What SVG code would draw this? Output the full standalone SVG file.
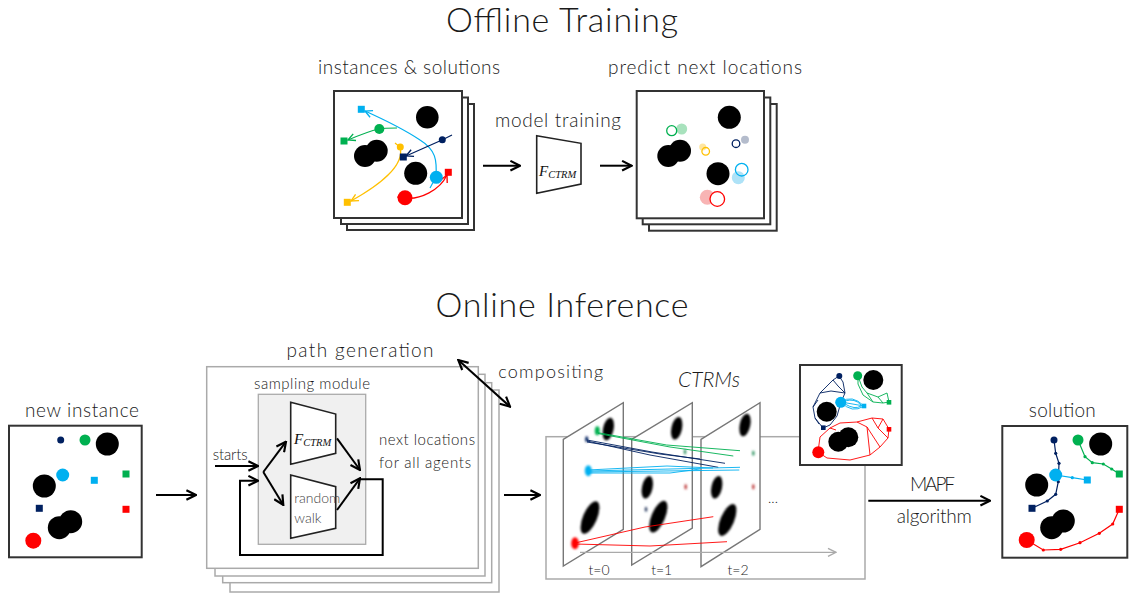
<svg xmlns="http://www.w3.org/2000/svg" width="1130" height="593" viewBox="0 0 1130 593">
<style>
text{font-family:Lato,"Liberation Sans",sans-serif;font-weight:300;fill:#1a1a1a}
.title{font-size:34px}
.lbl{font-size:19px}
.sm{font-size:15px}
.tiny{font-size:14px}
.math{font-family:"Liberation Serif","DejaVu Serif",serif;font-style:italic;font-weight:400;fill:#111}
.map{fill:#fff;stroke:#333;stroke-width:2}
.stack{fill:#fff;stroke:#aaa;stroke-width:1.5}
.plane{fill:#fff;stroke:#777;stroke-width:1.4}
.obs{fill:#000}
.arr{fill:none;stroke:#000;stroke-width:2}
.trap{fill:#fff;stroke:#222;stroke-width:1.6}
.nv{fill:#002060}.cy{fill:#00b0f0}.gn{fill:#00b050}.rd{fill:#ff0000}.yl{fill:#ffc000}
.snv{fill:none;stroke:#002060;stroke-width:1.2}
.scy{fill:none;stroke:#00b0f0;stroke-width:1.2}
.sgn{fill:none;stroke:#00b050;stroke-width:1.2}
.srd{fill:none;stroke:#ff0000;stroke-width:1.2}
.syl{fill:none;stroke:#ffc000;stroke-width:1.2}
.thin{stroke-width:0.9}
</style>
<defs>
<marker id="ah" viewBox="0 0 10 10" refX="9" refY="5" markerWidth="12" markerHeight="12" markerUnits="userSpaceOnUse" orient="auto-start-reverse">
<path d="M1,1 L9,5 L1,9" fill="none" stroke="#000" stroke-width="1.8"/>
</marker>
<marker id="ahg" viewBox="0 0 10 10" refX="9" refY="5" markerWidth="10" markerHeight="10" markerUnits="userSpaceOnUse" orient="auto">
<path d="M1,1 L9,5 L1,9" fill="none" stroke="#aaa" stroke-width="1.4"/>
</marker>
<marker id="ahcy" viewBox="0 0 10 10" refX="9" refY="5" markerWidth="9" markerHeight="9" markerUnits="userSpaceOnUse" orient="auto"><path d="M1,1 L9,5 L1,9" fill="none" stroke="#00b0f0" stroke-width="1.5"/></marker>
<marker id="ahgn" viewBox="0 0 10 10" refX="9" refY="5" markerWidth="9" markerHeight="9" markerUnits="userSpaceOnUse" orient="auto"><path d="M1,1 L9,5 L1,9" fill="none" stroke="#00b050" stroke-width="1.5"/></marker>
<marker id="ahnv" viewBox="0 0 10 10" refX="9" refY="5" markerWidth="9" markerHeight="9" markerUnits="userSpaceOnUse" orient="auto"><path d="M1,1 L9,5 L1,9" fill="none" stroke="#002060" stroke-width="1.5"/></marker>
<marker id="ahyl" viewBox="0 0 10 10" refX="9" refY="5" markerWidth="9" markerHeight="9" markerUnits="userSpaceOnUse" orient="auto"><path d="M1,1 L9,5 L1,9" fill="none" stroke="#ffc000" stroke-width="1.5"/></marker>
<marker id="ahrd" viewBox="0 0 10 10" refX="9" refY="5" markerWidth="9" markerHeight="9" markerUnits="userSpaceOnUse" orient="auto"><path d="M1,1 L9,5 L1,9" fill="none" stroke="#ff0000" stroke-width="1.5"/></marker>
<filter id="soft" x="-50%" y="-50%" width="200%" height="200%"><feGaussianBlur stdDeviation="0.8"/></filter>
</defs>

<!-- section titles -->
<text class="title" x="562" y="32" text-anchor="middle" textLength="232">Offline Training</text>
<text class="title" x="562" y="317" text-anchor="middle" textLength="253">Online Inference</text>

<!-- training data: instances with solved paths -->
<g id="training-instances">
<text class="lbl" x="409" y="74" text-anchor="middle" textLength="182">instances &amp; solutions</text>
<rect class="map" x="347" y="104" width="127" height="126"/>
<rect class="map" x="341" y="97.5" width="127" height="126.5"/>
<rect class="map" x="334" y="91" width="128" height="127"/>
<circle class="obs" cx="427.3" cy="117.3" r="11.3"/>
<circle class="obs" cx="365" cy="156" r="11"/>
<circle class="obs" cx="376.7" cy="150.7" r="11"/>
<circle class="obs" cx="415.7" cy="173.3" r="11.5"/>
<path class="scy" d="M430,188 L436,177"/>
<path class="scy" d="M436,177 C437,160 436,150 420,140 C405,130 385,120 365,111" marker-end="url(#ahcy)"/>
<path class="sgn" d="M397,128 C390,128 384,128 379,129 C370,131 362,134 348,140" marker-end="url(#ahgn)"/>
<path class="snv" d="M452,135 L442,140 L406,156" marker-end="url(#ahnv)"/>
<path class="syl" d="M395,143 L400,147 C405,165 380,185 351,201" marker-end="url(#ahyl)"/>
<path class="srd" d="M397,197 L405,198 C420,200 440,190 447,175" marker-end="url(#ahrd)"/>
<rect class="cy" x="357.8" y="105.8" width="7" height="7"/>
<circle class="gn" cx="379.3" cy="129" r="5"/>
<rect class="gn" x="340.5" y="137.5" width="7" height="7"/>
<circle class="nv" cx="442.3" cy="139.7" r="3.5"/>
<rect class="nv" x="399.8" y="153.5" width="7" height="7"/>
<circle class="yl" cx="400.3" cy="147" r="3.5"/>
<rect class="yl" x="343.8" y="198.8" width="7" height="7"/>
<circle class="cy" cx="436.3" cy="177.3" r="6.5"/>
<rect class="rd" x="444.8" y="168.8" width="7" height="7"/>
<circle class="rd" cx="405" cy="197.7" r="7.5"/>
</g>

<!-- the trained model -->
<g id="model-training">
<text class="lbl" x="558" y="126.5" text-anchor="middle" textLength="126">model training</text>
<polygon class="trap" points="536.7,135.7 581,143.3 581,184 536.7,193.3"/>
<text class="math" x="539" y="176" font-size="15">F<tspan font-size="10.5" dy="2">CTRM</tspan></text>
</g>

<!-- predicted next locations -->
<g id="predictions">
<text class="lbl" x="705" y="74" text-anchor="middle" textLength="194">predict next locations</text>
<rect class="map" x="649" y="104" width="127.7" height="126.7"/>
<rect class="map" x="642.7" y="97.5" width="127.6" height="126.8"/>
<rect class="map" x="636.7" y="91" width="127.3" height="127.3"/>
<circle class="obs" cx="729.3" cy="117.3" r="11.5"/>
<circle class="obs" cx="668.3" cy="156" r="11"/>
<circle class="obs" cx="680" cy="150.7" r="11"/>
<circle class="obs" cx="718" cy="173.7" r="11.5"/>
<circle cx="681.7" cy="129" r="5.5" fill="#a8e2bd"/>
<circle cx="671.7" cy="130.7" r="5" fill="none" stroke="#00b050" stroke-width="1.3"/>
<circle cx="702.7" cy="147" r="3.5" fill="#ffe6a0"/>
<circle cx="705.7" cy="151.3" r="3.8" fill="none" stroke="#ffc000" stroke-width="1.3"/>
<circle cx="745" cy="139.7" r="4" fill="#b4bccc"/>
<circle cx="736" cy="143.7" r="3.8" fill="none" stroke="#002060" stroke-width="1.3"/>
<circle cx="738.3" cy="177.7" r="6.5" fill="#aee2f7"/>
<circle cx="741.7" cy="169.7" r="6.3" fill="none" stroke="#00b0f0" stroke-width="1.3"/>
<circle cx="707.3" cy="197.3" r="7.5" fill="#f8b4b4"/>
<circle cx="717.3" cy="199" r="7.3" fill="#fff" stroke="#ff0000" stroke-width="1.3"/>
</g>

<!-- new problem instance -->
<g id="new-instance">
<text class="lbl" x="82" y="417" text-anchor="middle" textLength="114">new instance</text>
<rect class="map" x="9" y="425.7" width="132.7" height="131.6"/>
<circle class="nv" cx="60.7" cy="440" r="3.5"/>
<circle class="gn" cx="85" cy="440" r="5.5"/>
<circle class="obs" cx="107.3" cy="444" r="11.5"/>
<circle class="cy" cx="62.7" cy="475" r="6.5"/>
<rect class="cy" x="90.8" y="476.8" width="7" height="7"/>
<rect class="gn" x="122.5" y="470.5" width="7" height="7"/>
<circle class="obs" cx="44.3" cy="486" r="11.5"/>
<rect class="nv" x="35.8" y="504.8" width="7" height="7"/>
<rect class="rd" x="122.5" y="505.8" width="7" height="7"/>
<circle class="obs" cx="59.3" cy="527.7" r="11.5"/>
<circle class="obs" cx="70.7" cy="521.7" r="11.5"/>
<circle class="rd" cx="33.3" cy="540.7" r="8"/>
</g>

<!-- path generation with sampling module -->
<g id="path-generation">
<text class="lbl" x="360" y="357" text-anchor="middle" textLength="147">path generation</text>
<rect class="stack" x="230" y="390" width="269" height="202"/>
<rect class="stack" x="222.7" y="382.7" width="269" height="200"/>
<rect class="stack" x="215" y="374.3" width="270" height="201.7"/>
<rect class="stack" x="206.7" y="366.7" width="271.6" height="201.6"/>
<rect x="258.3" y="394.3" width="107.4" height="150" fill="#f0f0f0" stroke="#aaa" stroke-width="1.3"/>
<text class="sm" x="312" y="388.5" text-anchor="middle" textLength="116">sampling module</text>
<polygon class="trap" points="290.7,402.3 335.7,414 335.7,453.3 290.7,464.3"/>
<text class="math" x="294" y="444" font-size="15">F<tspan font-size="10.5" dy="1.5">CTRM</tspan></text>
<polygon class="trap" points="290.7,475 335.7,486.7 335.7,528.3 290.7,538.3"/>
<text class="tiny" x="294.3" y="503.3" style="fill:#444">random</text>
<text class="tiny" x="294.3" y="522.7" style="fill:#444">walk</text>
<text class="sm" x="212.7" y="460" textLength="35">starts</text>
<text class="sm" x="379" y="445" textLength="96">next locations</text>
<text class="sm" x="379" y="468.3" textLength="92">for all agents</text>
</g>

<!-- CTRMs: stacked time layers -->
<g id="ctrms">
<text x="709" y="387" text-anchor="middle" font-style="italic" font-size="21">CTRMs</text>
<rect x="546" y="436.7" width="319" height="142.3" fill="none" stroke="#aaa" stroke-width="1.5"/>
<polygon class="plane" points="563.3,439.3 623.3,402.7 623.3,529.3 563.3,566"/>
<g filter="url(#soft)">
<ellipse class="obs" cx="608.3" cy="429" rx="5.3" ry="11.5" transform="rotate(12 608.3 429)"/>
<ellipse class="obs" cx="590" cy="517.5" rx="7" ry="17.5" transform="rotate(23 590 517.5)"/>
<ellipse class="gn" cx="597.3" cy="430.7" rx="2.5" ry="4.5"/>
<ellipse class="nv" cx="586.7" cy="439.3" rx="1.5" ry="3"/>
<ellipse class="cy" cx="588.3" cy="470.7" rx="3.5" ry="5.5"/>
<ellipse class="rd" cx="575" cy="543.3" rx="3.8" ry="6"/>
</g>
<polygon class="plane" points="631.7,439.3 692.3,402.7 692.3,528 631.7,565"/>
<g filter="url(#soft)">
<ellipse class="obs" cx="676.7" cy="428.3" rx="5.3" ry="11.5" transform="rotate(12 676.7 428.3)"/>
<ellipse class="obs" cx="647.3" cy="487.3" rx="5.3" ry="11.5" transform="rotate(12 647.3 487.3)"/>
<ellipse class="obs" cx="658.3" cy="516.7" rx="6.8" ry="17" transform="rotate(23 658.3 516.7)"/>
<ellipse cx="685" cy="451.7" rx="1.3" ry="2.8" fill="#3a9a6a"/>
<ellipse cx="685.7" cy="486.7" rx="1.3" ry="2.8" fill="#c04040"/>
<ellipse cx="646" cy="509.3" rx="1.3" ry="2.5" fill="#334466"/>
</g>
<polygon class="plane" points="701,439.3 760,402.7 760,529.3 701,566.7"/>
<g filter="url(#soft)">
<ellipse class="obs" cx="745" cy="425" rx="5.3" ry="11.5" transform="rotate(12 745 425)"/>
<ellipse class="obs" cx="716.7" cy="487.3" rx="5.3" ry="11.5" transform="rotate(12 716.7 487.3)"/>
<ellipse class="obs" cx="727.3" cy="520" rx="6.8" ry="17" transform="rotate(23 727.3 520)"/>
<ellipse cx="753.3" cy="453.3" rx="1.3" ry="2.8" fill="#3a9a6a"/>
<ellipse cx="753.3" cy="486.7" rx="1.3" ry="2.8" fill="#c04040"/>
</g>
<path d="M580,552.3 L836,552.3" fill="none" stroke="#aaa" stroke-width="1.3" marker-end="url(#ahg)"/>
<text class="tiny" x="599" y="575" text-anchor="middle">t=0</text>
<text class="tiny" x="661.7" y="575" text-anchor="middle">t=1</text>
<text class="tiny" x="738" y="575" text-anchor="middle">t=2</text>
<text class="tiny" x="773" y="503" text-anchor="middle">...</text>
</g>

<!-- compact roadmap of the composited CTRMs -->
<g id="ctrm-roadmap">
<rect class="map" x="800" y="365" width="101.7" height="100"/>
<circle class="obs" cx="873.3" cy="380" r="10"/>
<circle class="obs" cx="826.7" cy="411.7" r="10"/>
<circle class="obs" cx="838.3" cy="441.7" r="10"/>
<circle class="obs" cx="848.3" cy="437.3" r="10"/>
<path class="snv thin" d="M839,376 L833,380 L820,393 L813,407 L815,418 L823,428 M839,376 L843,382 L845,393 L841,402 L837,416 L830,425 L823,428 M833,380 L838,386 L845,393 M820,393 L831,391 L845,393 M813,407 L818,400 M815,418 L819,424"/>
<path class="sgn thin" d="M858,376 L862,387 L867,393 L878,397 L887,393 L889,402 M858,376 L858,384 L863,395 L873,402 L883,403 L889,402 M867,393 L873,402 M878,397 L883,403"/>
<path class="scy thin" d="M841,402 Q852,394 864,406 M841,402 Q852,414 864,406 M841,402 L864,406 M845,401 Q855,398 861,405 M845,404 Q855,410 861,406"/>
<path class="srd thin" d="M818,452 L820,437 L830,428 L840,423 L857,422 L872,418 L883,419 L889,429 M818,452 L827,458 L850,460 L870,455 L880,447 L888,438 L889,429 M857,422 L867,427 L880,447 M872,418 L878,428 L888,438 M867,427 L870,455 M878,428 L883,419 M830,428 L836,430"/>
<circle class="nv" cx="839.3" cy="376" r="3"/>
<circle class="gn" cx="857.7" cy="375.7" r="4.5"/>
<circle class="cy" cx="840.7" cy="402.3" r="5.5"/>
<rect class="cy" x="861.7" y="403.7" width="4.6" height="4.6"/>
<rect class="gn" x="886.7" y="400" width="4.6" height="4.6"/>
<rect class="nv" x="821" y="425.4" width="4.6" height="4.6"/>
<rect class="rd" x="886.7" y="427" width="4.6" height="4.6"/>
<circle class="rd" cx="818.3" cy="452.3" r="6"/>
</g>

<!-- final solution -->
<g id="solution">
<text class="lbl" x="1062.3" y="417.3" text-anchor="middle" textLength="67">solution</text>
<rect class="map" x="1002.3" y="426" width="125" height="131.7"/>
<circle class="obs" cx="1100.7" cy="444" r="11.5"/>
<circle class="obs" cx="1036.7" cy="485" r="11.5"/>
<circle class="obs" cx="1051.7" cy="527.7" r="11.5"/>
<circle class="obs" cx="1063.3" cy="521" r="11.5"/>
<path class="snv" d="M1054,440 L1055.7,453.3 L1059,463.3 L1058.3,481.7 L1055.7,494.3 L1047.3,501 L1032,508.3"/>
<path class="scy" d="M1055.7,475 L1072.3,477.7 L1087.3,480"/>
<path class="sgn" d="M1078,440 L1085,456.7 L1092.3,462.7 L1103.3,464 L1111.7,469 L1119.3,474"/>
<path class="srd" d="M1026.7,540 L1043.3,550 L1060.7,549.3 L1080,542.7 L1099.3,533.3 L1112.7,524 L1119.3,509.3"/>
<circle class="nv" cx="1055.7" cy="453.3" r="1.6"/><circle class="nv" cx="1059" cy="463.3" r="1.6"/><circle class="nv" cx="1058.3" cy="481.7" r="1.6"/><circle class="nv" cx="1055.7" cy="494.3" r="1.6"/><circle class="nv" cx="1047.3" cy="501" r="1.6"/>
<circle class="cy" cx="1072.3" cy="477.7" r="1.6"/>
<circle class="gn" cx="1085" cy="456.7" r="1.6"/><circle class="gn" cx="1092.3" cy="462.7" r="1.6"/><circle class="gn" cx="1103.3" cy="464" r="1.6"/><circle class="gn" cx="1111.7" cy="469" r="1.6"/>
<circle class="rd" cx="1043.3" cy="550" r="1.6"/><circle class="rd" cx="1060.7" cy="549.3" r="1.6"/><circle class="rd" cx="1080" cy="542.7" r="1.6"/><circle class="rd" cx="1099.3" cy="533.3" r="1.6"/><circle class="rd" cx="1112.7" cy="524" r="1.6"/>
<circle class="nv" cx="1054" cy="440" r="3.5"/>
<circle class="gn" cx="1078" cy="440" r="5.5"/>
<circle class="cy" cx="1055.7" cy="475" r="6.5"/>
<rect class="cy" x="1083.8" y="476.5" width="7" height="7"/>
<rect class="gn" x="1115.8" y="470.5" width="7" height="7"/>
<rect class="nv" x="1028.5" y="504.8" width="7" height="7"/>
<rect class="rd" x="1115.8" y="505.8" width="7" height="7"/>
<circle class="rd" cx="1026.7" cy="540" r="8"/>
</g>

<!-- connectors -->
<g id="connectors">
<path class="arr" d="M483,165.7 L520,165.7" marker-end="url(#ah)"/>
<path class="arr" d="M600,165.7 L631.7,165.7" marker-end="url(#ah)"/>
<path class="arr" d="M156,495 L196,495" marker-end="url(#ah)"/>
<path class="arr" d="M215,466 L258,466" marker-end="url(#ah)"/>
<path class="arr" stroke-width="2.5" d="M360,479.3 H382.7 V555 H240 V480.7 H258" marker-end="url(#ah)"/>
<path class="arr" d="M263.3,472 L286,441.7" marker-end="url(#ah)"/>
<path class="arr" d="M263.3,472 L283.3,505" marker-end="url(#ah)"/>
<path class="arr" d="M337,438.3 L360,470" marker-end="url(#ah)"/>
<path class="arr" d="M337,510 L360,478.3" marker-end="url(#ah)"/>
<path class="arr" d="M458.3,360 L510,406.7" marker-start="url(#ah)" marker-end="url(#ah)"/>
<path class="arr" d="M504,495 L540,495" marker-end="url(#ah)"/>
<path class="arr" d="M868.3,500.7 L990,500.7" marker-end="url(#ah)"/>
<text class="sm" x="498.3" y="378.3" textLength="105" style="font-size:18px">compositing</text>
<text class="lbl" x="932.5" y="490.7" text-anchor="middle" textLength="45">MAPF</text>
<text class="lbl" x="934.2" y="523.3" text-anchor="middle" textLength="75">algorithm</text>
<!-- CTRM edges linking agent positions across time layers -->
<path class="sgn thin" d="M598,432.7 L666.7,445 L740,450.7 M598,433.5 L670,447 L733.3,456"/>
<path class="snv thin" d="M587,440 L652,452 L725,463.3 M587,441 L650,455 L718.3,467.3 M587,442 L660,454 L700,459"/>
<path class="scy thin" d="M588,471 L740,467.3 M588,472 L739.3,470 M588,470 L667,466 L713,468 M588,473 L670,473 L700,469"/>
<path class="srd thin" d="M575,543 L645,527 L713.3,516.7 M575,544 L650,546 L727,541.7"/>
</g>
</svg>
